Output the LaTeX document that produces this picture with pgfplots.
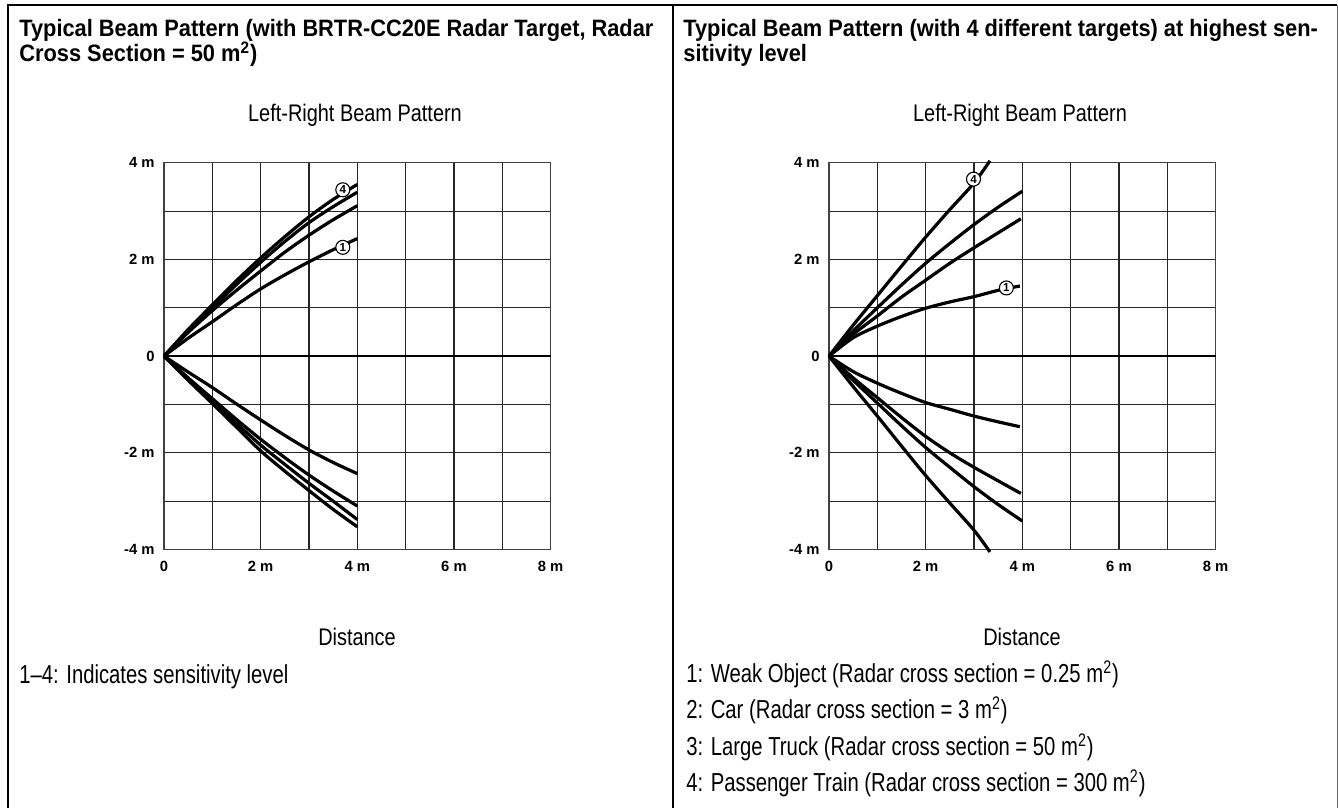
\documentclass[border=0pt]{standalone}
\usepackage{fontspec}
\setmainfont{Liberation Sans}
\newfontfamily\titlefont[FakeStretch=0.92]{Liberation Sans}
\newfontfamily\headfont[FakeStretch=0.83]{Liberation Sans}
\newfontfamily\notefont[FakeStretch=0.78]{Liberation Sans}
\usepackage{pgfplots}
\pgfplotsset{compat=1.18}

\pgfplotsset{
  beam/.style={
    width=193.3pt, height=193.4pt, scale only axis,
    anchor=south west,
    xmin=0, xmax=8, ymin=-4, ymax=4,
    xtick={0,...,8}, ytick={-4,...,4},
    xticklabels={0,,2 m,,4 m,,6 m,,8 m},
    yticklabels={-4 m,,-2 m,,0,,2 m,,4 m},
    major tick length=0pt,
    grid=major,
    major grid style={black!85, line width=0.55pt},
    axis line style={black!75, line width=0.55pt},
    ticklabel style={font=\fontsize{7.4}{8}\selectfont\bfseries},
    xticklabel style={yshift=-2.5pt},
    yticklabel style={xshift=-1.2pt},
    clip=false,
  },
  ray/.style={black, solid, line width=1.6pt, smooth, no markers},
  zero/.style={black, solid, line width=1pt, sharp plot, no markers},
}
\tikzset{
  num/.style={circle, draw, fill=white, line width=0.55pt, inner sep=0pt,
    minimum size=7pt, font=\fontsize{5.8}{6}\selectfont\bfseries},
}

\begin{document}
\begin{tikzpicture}[x=0.5pt,y=-0.5pt]
\path[use as bounding box] (0,0) rectangle (1338,808);
% frame
\draw[line width=1.2pt] (8,808) -- (8,5) -- (1337,5);
\draw[line width=1.2pt] (673,5) -- (673,808);
\draw[line width=0.5pt, black!60] (1337,5) -- (1337,808);

% titles
\begin{scope}[every node/.style={anchor=base west, inner sep=0pt,
    font=\titlefont\bfseries\fontsize{11.85}{14}\selectfont}]
\node at (19,36.5) {Typical Beam Pattern (with BRTR-CC20E Radar Target, Radar};
\node at (19,62) {Cross Section = 50 m\textsuperscript{2})};
\node at (683,36.5) {Typical Beam Pattern (with 4 different targets) at highest sen-};
\node at (683,62) {sitivity level};
\end{scope}

\begin{scope}[every node/.style={anchor=base, inner sep=0pt,
    font=\headfont\fontsize{12}{14}\selectfont}]
\node at (355,121) {Left-Right Beam Pattern};
\node at (1020,121) {Left-Right Beam Pattern};
\node at (357,645) {Distance};
\node at (1022,645) {Distance};
\end{scope}

\begin{scope}[every node/.style={anchor=base west, inner sep=0pt,
    font=\notefont\fontsize{13}{15}\selectfont}]
\node at (19,683) {1–4: Indicates sensitivity level};
\node at (686,682) {1: Weak Object (Radar cross section = 0.25 m\textsuperscript{2})};
\node at (686,718.5) {2: Car (Radar cross section = 3 m\textsuperscript{2})};
\node at (686,755) {3: Large Truck (Radar cross section = 50 m\textsuperscript{2})};
\node at (686,791.5) {4: Passenger Train (Radar cross section = 300 m\textsuperscript{2})};
\end{scope}

% left chart: BRTR-CC20E target, sensitivity levels 1-4
\begin{axis}[beam, at={(82pt,-274.75pt)}]
\addplot[zero] coordinates {(0,0) (8,0)};
\addplot[ray] coordinates {(0,0) (0.5,0.37) (1,0.71) (1.5,1.06) (2,1.39) (2.5,1.68) (3,1.95) (3.5,2.2) (4,2.43)};
\addplot[ray] coordinates {(0,0) (0.5,0.49) (1,0.94) (1.5,1.36) (2,1.76) (2.5,2.15) (3,2.5) (3.5,2.82) (4,3.11)};
\addplot[ray] coordinates {(0,0) (0.5,0.52) (1,1.0) (1.5,1.48) (2,1.94) (2.5,2.37) (3,2.76) (3.5,3.09) (4,3.39)};
\addplot[ray] coordinates {(0,0) (0.5,0.55) (1,1.06) (1.5,1.56) (2,2.03) (2.5,2.47) (3,2.88) (3.5,3.24) (4,3.55)};
\addplot[ray] coordinates {(0,0) (0.5,-0.33) (1,-0.65) (1.5,-0.99) (2,-1.32) (2.5,-1.64) (3,-1.94) (3.5,-2.2) (4,-2.43)};
\addplot[ray] coordinates {(0,0) (0.5,-0.45) (1,-0.88) (1.5,-1.31) (2,-1.72) (2.5,-2.1) (3,-2.46) (3.5,-2.79) (4,-3.1)};
\addplot[ray] coordinates {(0,0) (0.5,-0.48) (1,-0.94) (1.5,-1.39) (2,-1.84) (2.5,-2.24) (3,-2.63) (3.5,-3.0) (4,-3.38)};
\addplot[ray] coordinates {(0,0) (0.5,-0.5) (1,-0.98) (1.5,-1.47) (2,-1.96) (2.5,-2.38) (3,-2.78) (3.5,-3.17) (4,-3.53)};
\node[num] at (axis cs:3.70,3.44) {4};
\node[num] at (axis cs:3.70,2.25) {1};
\end{axis}

% right chart: four targets at highest sensitivity
\begin{axis}[beam, at={(414.5pt,-274.75pt)}]
\addplot[zero] coordinates {(0,0) (8,0)};
\addplot[ray] coordinates {(0,0) (0.5,0.38) (1,0.62) (1.5,0.82) (2,0.99) (2.5,1.12) (3,1.23) (3.5,1.36) (3.95,1.45)};
\addplot[ray] coordinates {(0,0) (0.5,0.45) (1,0.83) (1.5,1.22) (2,1.57) (2.5,1.92) (3,2.24) (3.5,2.55) (3.97,2.84)};
\addplot[ray] coordinates {(0,0) (0.5,0.52) (1,1.0) (1.5,1.47) (2,1.92) (2.5,2.33) (3,2.72) (3.5,3.08) (4,3.41)};
\addplot[ray] coordinates {(0,0) (0.5,0.64) (1,1.25) (1.5,1.86) (2,2.46) (2.5,3.03) (3,3.58) (3.33,4.04)};
\addplot[ray] coordinates {(0,0) (0.5,-0.32) (1,-0.56) (1.5,-0.77) (2,-0.96) (2.5,-1.1) (3,-1.24) (3.5,-1.36) (3.95,-1.46)};
\addplot[ray] coordinates {(0,0) (0.5,-0.45) (1,-0.86) (1.5,-1.27) (2,-1.66) (2.5,-2.0) (3,-2.3) (3.5,-2.58) (3.97,-2.84)};
\addplot[ray] coordinates {(0,0) (0.5,-0.5) (1,-0.97) (1.5,-1.44) (2,-1.89) (2.5,-2.3) (3,-2.7) (3.5,-3.07) (4,-3.41)};
\addplot[ray] coordinates {(0,0) (0.5,-0.63) (1,-1.24) (1.5,-1.86) (2,-2.47) (2.5,-3.04) (3,-3.6) (3.33,-4.05)};
\node[num] at (axis cs:2.99,3.66) {4};
\node[num] at (axis cs:3.67,1.41) {1};
\end{axis}
\end{tikzpicture}
\end{document}
